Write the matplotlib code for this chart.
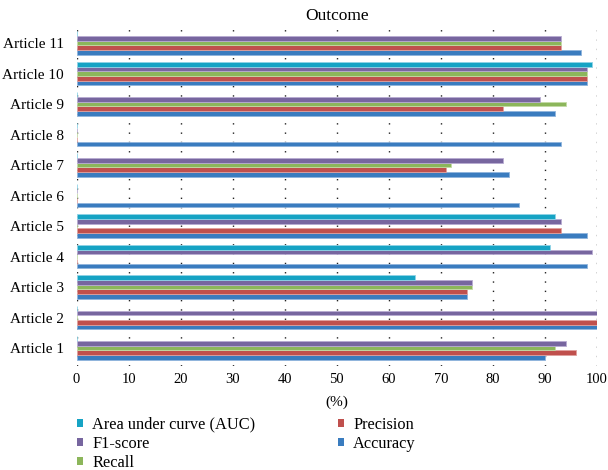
import numpy as np
import matplotlib
matplotlib.use("Agg")
import matplotlib.pyplot as plt
from matplotlib.patches import Patch

plt.rcParams['font.family'] = ['Liberation Serif', 'DejaVu Serif']

# data (Article 1 .. Article 11)
articles = ["Article %d" % i for i in range(1, 12)]
accuracy = [90, 100, 75, 98, 98, 85, 83, 93, 92, 98, 97]
precision = [96, 100, 75, 0, 93, 0, 71, 0, 82, 98, 93]
recall = [92, 0, 76, 0, 0, 0, 72, 0, 94, 98, 93]
f1_score = [94, 100, 76, 99, 93, 0, 82, 0, 89, 98, 93]
auc = [0, 0, 65, 91, 92, 0, 0, 0, 0, 99, 0]

series = [
    ("Accuracy", accuracy, "#3a7cbf", "#8fb4dc"),
    ("Precision", precision, "#c0504d", "#e0a09e"),
    ("Recall", recall, "#8cb65b", "#c3dba6"),
    ("F1-score", f1_score, "#77669f", "#b8acd2"),
    ("Area under curve (AUC)", auc, "#16a3c4", "#8fd3e6"),
]

fig = plt.figure(figsize=(6.08, 4.70), dpi=100)
ax = fig.add_axes([0.126, 0.221, 0.856, 0.7185])

y = np.arange(len(articles))
h = 0.154
for i, (name, vals, col, edge) in enumerate(series):
    ax.barh(y + (i - 2) * h, vals, height=h, color=col, edgecolor=edge,
            linewidth=0.6, zorder=3)

ax.set_xlim(0, 100)
ax.set_ylim(-0.59, 10.48)
ax.set_xticks(range(0, 101, 10))
ax.set_yticks(y)
ax.set_yticklabels(articles, fontsize=11)
ax.tick_params(axis='x', labelsize=10.5, length=0, pad=5)
ax.tick_params(axis='y', length=0, pad=9)
for s in ax.spines.values():
    s.set_visible(False)
ax.xaxis.grid(True, color="#222222", linestyle=(0, (1, 5.7)), linewidth=1.0, zorder=0)
ax.set_axisbelow(True)

ax.set_title("Outcome", fontsize=12.5, pad=6)
ax.set_xlabel("(%)", fontsize=11, labelpad=7)

order = [4, 3, 2, 1, 0]
handles = [Patch(facecolor=series[k][2], label=series[k][0]) for k in order]
fig.legend(handles=handles, loc="upper left", bbox_to_anchor=(0.113, 0.131),
           ncol=2, frameon=False, fontsize=11.8, handlelength=0.4,
           handleheight=0.4, handletextpad=0.55, columnspacing=5.0,
           labelspacing=0.18, borderpad=0)

fig.savefig("out.png", dpi=100)
